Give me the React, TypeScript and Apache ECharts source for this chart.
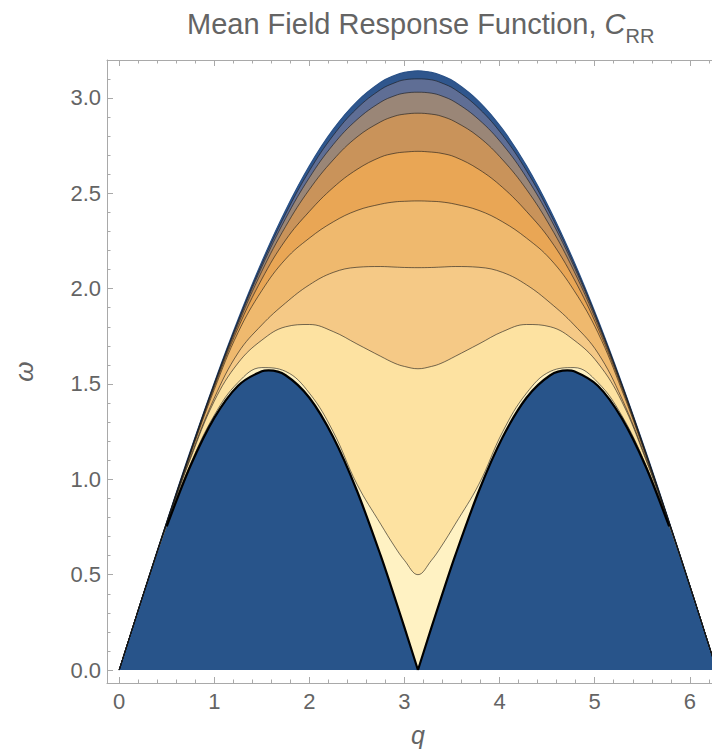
import React, { useEffect, useRef } from 'react';
import * as echarts from 'echarts';

// Shared q grid for the contour lines
const Q = [0, 0.1, 0.25, 0.5, 0.75, 1.0, 1.25, 1.5, 1.75, 2.0, 2.25, 2.5, 2.75, 2.9, 3.0, 3.1416, 3.283, 3.383, 3.533, 3.783, 4.033, 4.283, 4.533, 4.783, 5.033, 5.283, 5.533, 5.783, 6.033, 6.183, 6.2832];

// Upper edge of the continuum
const UPPER = [0, 0.157, 0.392, 0.777, 1.151, 1.506, 1.838, 2.141, 2.411, 2.644, 2.835, 2.981, 3.082, 3.119, 3.134, 3.142, 3.134, 3.119, 3.082, 2.981, 2.835, 2.644, 2.411, 2.141, 1.838, 1.506, 1.151, 0.777, 0.392, 0.157, 0];

// Contour lines, from the top one down
const C1 = [0, 0.157, 0.392, 0.776, 1.148, 1.502, 1.83, 2.128, 2.392, 2.618, 2.803, 2.945, 3.044, 3.08, 3.095, 3.1, 3.095, 3.08, 3.044, 2.945, 2.803, 2.618, 2.392, 2.128, 1.83, 1.502, 1.148, 0.776, 0.392, 0.157, 0];
const C2 = [0, 0.157, 0.392, 0.775, 1.145, 1.498, 1.823, 2.114, 2.368, 2.582, 2.755, 2.886, 2.978, 3.012, 3.025, 3.03, 3.025, 3.012, 2.978, 2.886, 2.755, 2.582, 2.368, 2.114, 1.823, 1.498, 1.145, 0.775, 0.392, 0.157, 0];
const C3 = [0, 0.157, 0.391, 0.774, 1.141, 1.492, 1.811, 2.091, 2.326, 2.52, 2.675, 2.795, 2.875, 2.905, 2.915, 2.92, 2.915, 2.905, 2.875, 2.795, 2.675, 2.52, 2.326, 2.091, 1.811, 1.492, 1.141, 0.774, 0.391, 0.157, 0];
const C4 = [0, 0.157, 0.391, 0.773, 1.137, 1.484, 1.793, 2.05, 2.255, 2.405, 2.53, 2.625, 2.69, 2.71, 2.716, 2.72, 2.716, 2.71, 2.69, 2.625, 2.53, 2.405, 2.255, 2.05, 1.793, 1.484, 1.137, 0.773, 0.391, 0.157, 0];
const C5 = [0, 0.157, 0.391, 0.771, 1.131, 1.471, 1.77, 1.99, 2.155, 2.265, 2.35, 2.41, 2.443, 2.455, 2.458, 2.46, 2.458, 2.455, 2.443, 2.41, 2.35, 2.265, 2.155, 1.99, 1.77, 1.471, 1.131, 0.771, 0.391, 0.157, 0];
const C6 = [0, 0.157, 0.391, 0.767, 1.117, 1.426, 1.663, 1.81, 1.925, 2.02, 2.085, 2.112, 2.116, 2.113, 2.111, 2.11, 2.111, 2.113, 2.116, 2.112, 2.085, 2.02, 1.925, 1.81, 1.663, 1.426, 1.117, 0.767, 0.391, 0.157, 0];
const C7 = [0, 0.157, 0.39, 0.765, 1.109, 1.41, 1.61, 1.73, 1.8, 1.812, 1.775, 1.71, 1.645, 1.608, 1.592, 1.58, 1.592, 1.608, 1.645, 1.71, 1.775, 1.812, 1.8, 1.73, 1.61, 1.41, 1.109, 0.765, 0.39, 0.157, 0];
const C8 = [0, 0.157, 0.39, 0.758, 1.08, 1.336, 1.508, 1.586, 1.566, 1.452, 1.25, 0.975, 0.765, 0.645, 0.575, 0.5, 0.575, 0.645, 0.765, 0.975, 1.25, 1.452, 1.566, 1.586, 1.508, 1.336, 1.08, 0.758, 0.39, 0.157, 0];

// Lower edge of the continuum (two lobes)
const Q_LOW_LEFT = [0, 0.1, 0.25, 0.5, 0.75, 1.0, 1.25, 1.5, 1.5708, 1.75, 2.0, 2.25, 2.5, 2.75, 2.9, 3.0, 3.1416];
const LOW_LEFT = [0, 0.157, 0.389, 0.753, 1.071, 1.322, 1.491, 1.567, 1.571, 1.546, 1.428, 1.222, 0.94, 0.6, 0.376, 0.222, 0];
const Q_LOW_RIGHT = [3.1416, 3.283, 3.383, 3.533, 3.783, 4.033, 4.283, 4.533, 4.7124, 4.783, 5.033, 5.283, 5.533, 5.783, 6.033, 6.183, 6.2832];
const LOW_RIGHT = [0, 0.222, 0.376, 0.6, 0.94, 1.222, 1.428, 1.546, 1.571, 1.567, 1.491, 1.322, 1.071, 0.753, 0.389, 0.157, 0];

// Ticks
const X_MAJOR = [0, 1, 2, 3, 4, 5, 6];
const X_MINOR = [0.2, 0.4, 0.6, 0.8, 1.2, 1.4, 1.6, 1.8, 2.2, 2.4, 2.6, 2.8, 3.2, 3.4, 3.6, 3.8, 4.2, 4.4, 4.6, 4.8, 5.2, 5.4, 5.6, 5.8, 6.2, 6.4];
const Y_MAJOR = [0, 0.5, 1, 1.5, 2, 2.5, 3];
const Y_MINOR = [0.1, 0.2, 0.3, 0.4, 0.6, 0.7, 0.8, 0.9, 1.1, 1.2, 1.3, 1.4, 1.6, 1.7, 1.8, 1.9, 2.1, 2.2, 2.3, 2.4, 2.6, 2.7, 2.8, 2.9, 3.1];

export default function App() {
  const ref = useRef<HTMLDivElement>(null);
  useEffect(() => {
    document.body.style.margin = '0';
    const chart = echarts.init(ref.current as HTMLDivElement, null, { renderer: 'svg' });
    const zip = (xs: number[], ys: number[]) => xs.map((x, i) => [x, ys[i]]);
    const FONT = '"Liberation Sans", Arial, sans-serif';
    const frame = '#a9a9a9';
    const label = '#646464';
    const XMIN = -0.128, XMAX = 6.412, YMIN = -0.068, YMAX = 3.199;

    const xAx = (pos: string, values: number[], len: number, main: boolean, line: boolean) => ({
      type: 'value', position: pos, min: XMIN, max: XMAX,
      axisLine: { show: line, onZero: false, lineStyle: { color: frame, width: 1 } },
      axisTick: { show: true, inside: true, length: len, customValues: values, lineStyle: { color: frame, width: 1 } },
      axisLabel: main
        ? { show: true, customValues: values, margin: 7, fontSize: 22, color: label, fontFamily: FONT, formatter: (v: number) => String(v) }
        : { show: false },
      splitLine: { show: false },
      ...(main ? { name: 'q', nameLocation: 'middle', nameGap: 38, nameTextStyle: { fontSize: 25, lineHeight: 28, fontStyle: 'italic', color: label, fontFamily: FONT } } : {}),
    });
    const yAx = (pos: string, values: number[], len: number, main: boolean, line: boolean) => ({
      type: 'value', position: pos, min: YMIN, max: YMAX,
      axisLine: { show: line, onZero: false, lineStyle: { color: frame, width: 1 } },
      axisTick: { show: true, inside: true, length: len, customValues: values, lineStyle: { color: frame, width: 1 } },
      axisLabel: main
        ? { show: true, customValues: values, margin: 6, fontSize: 22, color: label, fontFamily: FONT, formatter: (v: number) => v.toFixed(1) }
        : { show: false },
      splitLine: { show: false },
      ...(main ? { name: 'ω', nameLocation: 'middle', nameGap: 70, nameRotate: 90, nameTextStyle: { fontSize: 26, fontStyle: 'italic', color: label, fontFamily: FONT } } : {}),
    });

    const contourLine = 'rgba(25,25,25,0.6)';
    const bands = [
      { d: UPPER, fill: '#2f568d', line: '#2b5288', w: 1.2 },
      { d: C1, fill: '#5f6e95', line: contourLine, w: 1 },
      { d: C2, fill: '#9a8677', line: contourLine, w: 1 },
      { d: C3, fill: '#c9935a', line: contourLine, w: 1 },
      { d: C4, fill: '#e9a655', line: contourLine, w: 1 },
      { d: C5, fill: '#efb96e', line: contourLine, w: 1 },
      { d: C6, fill: '#f5c986', line: contourLine, w: 1 },
      { d: C7, fill: '#fde2a1', line: contourLine, w: 1 },
      { d: C8, fill: '#fff2c3', line: contourLine, w: 1 },
    ];
    const series: any[] = bands.map((b) => ({
      type: 'line', data: zip(Q, b.d), smooth: 0.4, symbol: 'none', silent: true,
      lineStyle: { color: b.line, width: b.w },
      areaStyle: { color: b.fill, opacity: 1 },
    }));
    // blue region below the lower edge
    [[Q_LOW_LEFT, LOW_LEFT], [Q_LOW_RIGHT, LOW_RIGHT]].forEach(([qs, vs]) => {
      series.push({
        type: 'line', data: zip(qs, vs), smooth: 0.3, symbol: 'none', silent: true,
        lineStyle: { width: 0, color: '#28548a' },
        areaStyle: { color: '#28548a', opacity: 1 },
      });
    });
    // black outline of the lower edge, where it is drawn in the original
    [[Q_LOW_LEFT.slice(3), LOW_LEFT.slice(3)], [Q_LOW_RIGHT.slice(0, 14), LOW_RIGHT.slice(0, 14)]].forEach(([qs, vs]) => {
      series.push({
        type: 'line', data: zip(qs, vs), smooth: 0.3, symbol: 'none', silent: true,
        lineStyle: { color: '#000000', width: 2.2 },
      });
    });

    chart.setOption({
      animation: false,
      backgroundColor: '#ffffff',
      title: {
        left: 182, top: 4,
        text: '{a|Mean Field Response Function, }{c|C}{s|RR}',
        textStyle: {
          fontWeight: 'normal',
          rich: {
            a: { fontSize: 29, lineHeight: 34, color: label, fontFamily: FONT, fontWeight: 'normal', verticalAlign: 'top' },
            c: { fontSize: 29, lineHeight: 34, color: label, fontFamily: FONT, fontWeight: 'normal', fontStyle: 'italic', verticalAlign: 'top' },
            s: { fontSize: 20, lineHeight: 20, color: label, fontFamily: FONT, fontWeight: 'normal', padding: [17, 0, 0, 0], verticalAlign: 'top' },
          },
        },
      },
      grid: { left: 107, top: 60, width: 622, height: 623, containLabel: false, outerBoundsMode: 'none' },
      xAxis: [
        xAx('bottom', X_MAJOR, 6, true, true),
        xAx('bottom', X_MINOR, 3.5, false, false),
        xAx('top', X_MAJOR, 6, false, true),
        xAx('top', X_MINOR, 3.5, false, false),
      ],
      yAxis: [
        yAx('left', Y_MAJOR, 6, true, true),
        yAx('left', Y_MINOR, 3.5, false, false),
        yAx('right', Y_MAJOR, 6, false, true),
        yAx('right', Y_MINOR, 3.5, false, false),
      ],
      series,
    });
    return () => chart.dispose();
  }, []);
  return <div ref={ref} style={{ width: 712, height: 752 }} />;
}
